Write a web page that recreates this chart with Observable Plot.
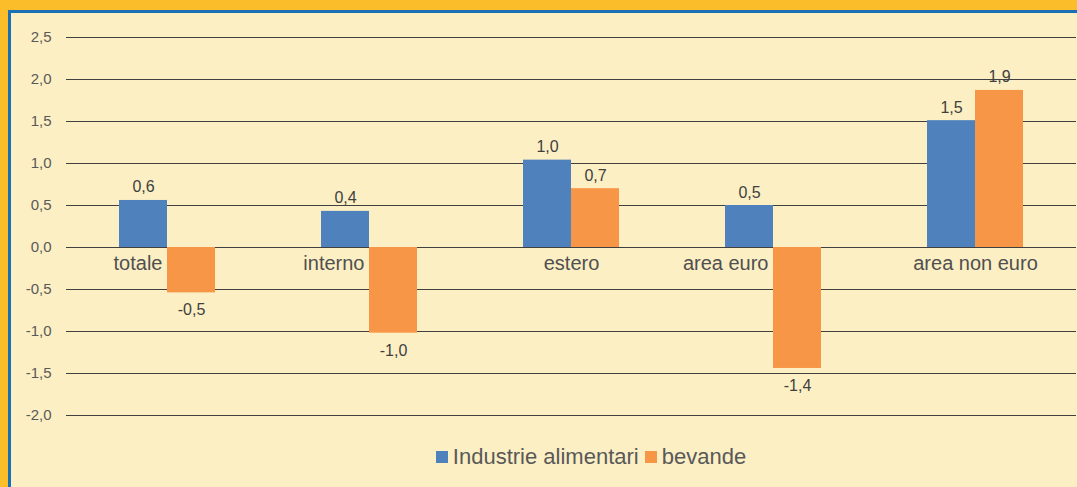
<!DOCTYPE html>
<html>
<head>
<meta charset="utf-8">
<script src="https://cdn.jsdelivr.net/npm/d3@7"></script>
<script src="https://cdn.jsdelivr.net/npm/@observablehq/plot@0.6"></script>
<style>
  html, body { margin: 0; padding: 0; }
  body { width: 1077px; height: 487px; overflow: hidden; background: #FBBD2A; font-family: "Liberation Sans", Arial, sans-serif; }
  #frame { position: absolute; left: 8px; top: 10px; right: 0; bottom: 0; border-left: 3px solid #1A6FB5; border-top: 3px solid #1A6FB5; background: #FCEFC4; }
  #legend { display: flex; justify-content: center; align-items: center; padding-left: 94px; height: 48px; font-size: 22px; color: #595959; }
  #legend .sw { display: inline-block; width: 12px; height: 12px; margin-right: 5px; }
  #legend .item { display: flex; align-items: center; margin: 0 3px; }
</style>
</head>
<body>
<div id="frame">
  <div id="chart"></div>
  <div id="legend"></div>
</div>
<script>
const categories = ["totale", "interno", "estero", "area euro", "area non euro"];
const seriesNames = ["Industrie alimentari", "bevande"];
const industrie = [0.56, 0.43, 1.04, 0.50, 1.51];
const bevande = [-0.54, -1.02, 0.70, -1.44, 1.87];
const yTicks = [-2.0, -1.5, -1.0, -0.5, 0.0, 0.5, 1.0, 1.5, 2.0, 2.5];
const colors = ["#4F81BD", "#F79646"];

const data = [];
categories.forEach((c, i) => {
  data.push({category: c, series: seriesNames[0], value: industrie[i]});
  data.push({category: c, series: seriesNames[1], value: bevande[i]});
});
const catRows = categories.map((c, i) => ({category: c, negB: bevande[i] < 0}));
const fmt = d => d.toFixed(1).replace(".", ",");

const chart = Plot.plot({
  width: 1066,
  height: 420,
  marginLeft: 54,
  marginRight: 0,
  marginTop: 24,
  marginBottom: 18,
  style: {background: "transparent", fontFamily: "'Liberation Sans', Arial, sans-serif"},
  fx: {domain: categories, paddingInner: 0, paddingOuter: 0, axis: null, label: null},
  x: {domain: seriesNames, paddingInner: 0, paddingOuter: 1.1, axis: null, label: null},
  y: {domain: [-2.0, 2.5], axis: null, label: null},
  color: {domain: seriesNames, range: colors},
  marks: [
    Plot.ruleY(yTicks, {stroke: "#404040", strokeWidth: 1}),
    Plot.barY(data, {fx: "category", x: "series", y: "value", fill: "series"}),
    Plot.text(data.filter(d => d.value >= 0), {fx: "category", x: "series", y: "value", text: d => fmt(d.value), lineAnchor: "bottom", dy: -8, fontSize: 16, fill: "#404040"}),
    Plot.text(data.filter(d => d.value < 0), {fx: "category", x: "series", y: "value", text: d => fmt(d.value), lineAnchor: "top", dy: 11, fontSize: 16, fill: "#404040"}),
    Plot.text(catRows.filter(d => d.negB), {fx: "category", y: () => 0, text: "category", textAnchor: "end", dx: -5, dy: 16, fontSize: 20, fill: "#505050"}),
    Plot.text(catRows.filter(d => !d.negB), {fx: "category", y: () => 0, text: "category", textAnchor: "middle", dy: 16, fontSize: 20, fill: "#505050"}),
    Plot.axisY(yTicks, {tickSize: 0, tickPadding: 15, tickFormat: fmt, fontSize: 15, fill: "#595959", color: "#595959"})
  ]
});
document.getElementById("chart").appendChild(chart);

const legend = document.getElementById("legend");
seriesNames.forEach((s, i) => {
  const item = document.createElement("span");
  item.className = "item";
  const sw = document.createElement("span");
  sw.className = "sw";
  sw.style.background = colors[i];
  item.appendChild(sw);
  item.appendChild(document.createTextNode(s));
  legend.appendChild(item);
});
</script>
</body>
</html>
